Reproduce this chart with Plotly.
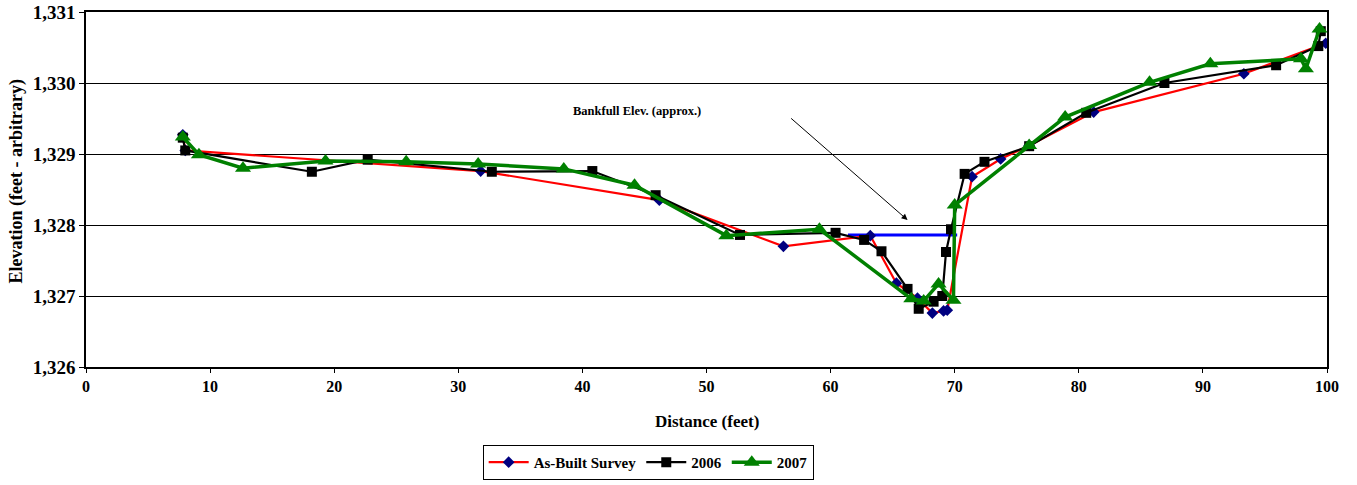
import plotly.graph_objects as go

# As-Built Survey
asbuilt_x = [7.8, 8.0, 31.8, 46.2, 56.2, 63.2, 65.3, 67.0, 68.2, 69.1, 69.4, 71.4, 73.7, 76.0, 81.2, 93.3, 99.9]
asbuilt_y = [1329.27, 1329.05, 1328.76, 1328.35, 1327.70, 1327.85, 1327.18, 1326.97, 1326.76, 1326.79, 1326.80,
             1328.68, 1328.93, 1329.12, 1329.59, 1330.13, 1330.56]

# 2006
s2006_x = [7.8, 8.0, 18.2, 22.7, 32.7, 40.8, 45.9, 52.7, 60.4, 62.7, 64.1, 66.2, 67.1, 68.3, 69.0, 69.3, 69.7,
           70.8, 72.4, 76.0, 80.6, 86.9, 95.9, 99.3, 99.5]
s2006_y = [1329.23, 1329.05, 1328.75, 1328.92, 1328.75, 1328.76, 1328.42, 1327.86, 1327.89, 1327.79, 1327.63,
           1327.10, 1326.82, 1326.92, 1327.00, 1327.62, 1327.94, 1328.72, 1328.89, 1329.11, 1329.58, 1330.00,
           1330.25, 1330.52, 1330.73]

# 2007
s2007_x = [7.8, 9.1, 12.65, 19.3, 25.8, 31.6, 38.5, 44.2, 51.6, 59.1, 66.5, 67.5, 68.7, 69.9, 70.0, 76.0,
           78.9, 85.7, 90.6, 97.9, 98.3, 99.4]
s2007_y = [1329.24, 1328.99, 1328.80, 1328.90, 1328.89, 1328.86, 1328.79, 1328.56, 1327.85, 1327.94, 1326.96,
           1326.93, 1327.17, 1326.94, 1328.28, 1329.12, 1329.52, 1330.01, 1330.27, 1330.34, 1330.20, 1330.76]

# Bankfull line
bankfull_x = [61.4, 70.2]
bankfull_y = [1327.86, 1327.86]

x_ticks = [0, 10, 20, 30, 40, 50, 60, 70, 80, 90, 100]
y_ticks = [1326, 1327, 1328, 1329, 1330, 1331]
y_labels = ["1,326", "1,327", "1,328", "1,329", "1,330", "1,331"]

FONT = "Liberation Serif"

fig = go.Figure()
fig.add_trace(go.Scatter(x=bankfull_x, y=bankfull_y, mode="lines",
                         line=dict(color="#0000FF", width=3), showlegend=False, hoverinfo="skip"))
fig.add_trace(go.Scatter(x=asbuilt_x, y=asbuilt_y, mode="lines+markers", name="<b>As-Built Survey</b>",
                         line=dict(color="#FF0000", width=2.2),
                         marker=dict(symbol="diamond", size=9, color="#000080")))
fig.add_trace(go.Scatter(x=s2006_x, y=s2006_y, mode="lines+markers", name="<b>2006</b>",
                         line=dict(color="#000000", width=2.2),
                         marker=dict(symbol="square", size=10, color="#000000")))
fig.add_trace(go.Scatter(x=s2007_x, y=s2007_y, mode="lines+markers", name="<b>2007</b>",
                         line=dict(color="#008000", width=3.5),
                         marker=dict(symbol="triangle-up", size=14, color="#008000")))

fig.add_annotation(x=66.2, y=1328.07, ax=56.7, ay=1329.52, xref="x", yref="y", axref="x", ayref="y",
                   text="", showarrow=True, arrowhead=2, arrowsize=1.2, arrowwidth=1, arrowcolor="#000000")
fig.add_annotation(x=44.4, y=1329.6, xref="x", yref="y", text="<b>Bankfull Elev. (approx.)</b>",
                   showarrow=False, font=dict(family=FONT, size=12.5, color="#000000"))

# axis titles
fig.add_annotation(x=0.5, y=0, xref="paper", yref="paper", yanchor="middle", yshift=-54,
                   text="<b>Distance (feet)</b>", showarrow=False,
                   font=dict(family=FONT, size=17, color="#000000"))
fig.add_annotation(x=0, y=0.5, xref="paper", yref="paper", xanchor="center", yanchor="middle",
                   xshift=-70, yshift=8, textangle=-90,
                   text="<b>Elevation (feet - arbitrary)</b>", showarrow=False,
                   font=dict(family=FONT, size=18, color="#000000"))

fig.update_layout(
    width=1357, height=485,
    margin=dict(l=86, r=30, t=12, b=118, autoexpand=False),
    paper_bgcolor="white", plot_bgcolor="white",
    font=dict(family=FONT, color="#000000"),
    legend=dict(orientation="h", x=0.453, xanchor="center", y=-0.318, yanchor="bottom",
                bordercolor="#000000", borderwidth=1, font=dict(family=FONT, size=15),
                tracegroupgap=0, itemwidth=40, valign="middle"),
    showlegend=True,
)
fig.update_xaxes(range=[0, 100], tickvals=x_ticks, ticktext=[f"<b>{v}</b>" for v in x_ticks],
                 showgrid=False, zeroline=False, showline=True, linecolor="#000000", linewidth=1.5,
                 mirror=True, ticks="outside", ticklen=4, tickcolor="#000000", automargin=False,
                 tickfont=dict(family=FONT, size=16))
fig.update_yaxes(range=[1326, 1331], tickvals=y_ticks, ticktext=[f"<b>{t}</b>" for t in y_labels],
                 showgrid=True, gridcolor="#000000", gridwidth=1, zeroline=False,
                 showline=True, linecolor="#000000", linewidth=1.5, mirror=True,
                 ticks="outside", ticklen=5, tickcolor="#000000", automargin=False,
                 tickfont=dict(family=FONT, size=19))

fig.write_html("out.html", config={"displayModeBar": False},
               post_script="document.body.style.margin='0';")
